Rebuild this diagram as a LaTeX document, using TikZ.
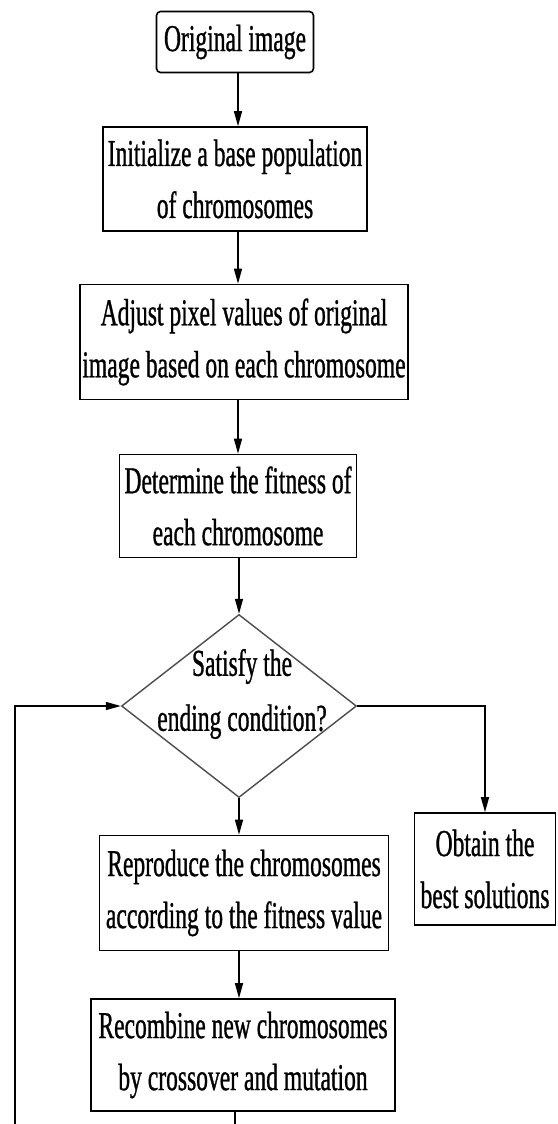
\documentclass[tikz,border=0pt]{standalone}
\usepackage{fontspec}
\setmainfont{Liberation Serif}[FakeStretch=0.62,FakeBold=0.8]
\usetikzlibrary{shapes.geometric,arrows.meta}

\tikzset{
  box/.style={draw, line width=1.6pt, inner sep=0pt, align=center,
    font=\fontsize{38}{52}\selectfont},
  decision/.style={diamond, draw=black!70, line width=1.4pt, inner sep=0pt,
    minimum width=235pt, minimum height=183pt},
  arr/.style={-{Triangle[length=15pt,width=8pt]}, line width=1.4pt},
  wire/.style={line width=1.4pt}
}

\begin{document}
\begin{tikzpicture}[x=1pt,y=-1pt]
  \useasboundingbox (0,0) rectangle (557,1124);

  % Main column
  \node[box, rounded corners=4pt, minimum width=157pt, minimum height=61pt] (orig) at (235,42) {Original image};
  \node[box, minimum width=264pt, minimum height=104pt] (init) at (235,179) {Initialize a base population\\ of chromosomes};
  \node[box, minimum width=328pt, minimum height=115pt] (adjust) at (244,342) {Adjust pixel values of original\\image based on each chromosome};
  \node[box, minimum width=237pt, minimum height=103pt] (fitness) at (238,506) {Determine the fitness of\\each chromosome};

  % Decision
  \node[decision] (cond) at (239,706) {};
  \node[font=\fontsize{38}{55}\selectfont, align=center] (condtxt) at (242,694) {Satisfy the\\ending condition?};

  % Lower boxes
  \node[box, minimum width=289pt, minimum height=115pt] (repro) at (244,893) {Reproduce the chromosomes\\according to the fitness value};
  \node[box, minimum width=304pt, minimum height=112pt] (recomb) at (243,1055) {Recombine new chromosomes\\by crossover and mutation};
  \node[box, minimum width=141pt, minimum height=112pt] (best) at (485,869) {Obtain the\\best solutions};

  % Free ends at the lower edge
  \coordinate (loopend) at (235,1124);
  \coordinate (loopleft) at (15,1124);

  % Arrows
  \draw[arr] (orig.south -| 238,0) -- (init.north -| 238,0);
  \draw[arr] (init.south -| 238,0) -- (adjust.north -| 238,0);
  \draw[arr] (adjust.south -| 238,0) -- (fitness.north -| 238,0);
  \draw[arr] (fitness.south -| cond) -- (cond.north);
  \draw[arr] (cond.south) -- (repro.north -| cond);
  \draw[arr] (repro.south -| cond) -- (recomb.north -| cond);
  \draw[arr] (cond.east) -| (best.north);

  % Loop back
  \draw[wire] (recomb.south -| loopend) -- (loopend);
  \draw[arr] (loopleft) -- (loopleft |- cond.west) -- (cond.west);
\end{tikzpicture}
\end{document}
